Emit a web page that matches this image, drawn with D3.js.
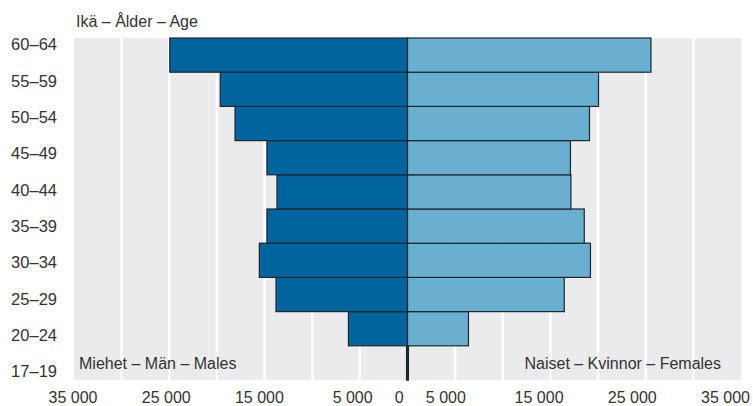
<!DOCTYPE html>
<html>
<head>
<meta charset="utf-8">
<script src="https://cdn.jsdelivr.net/npm/d3@7"></script>
<style>
  html, body { margin: 0; padding: 0; background: #fff; }
  svg { display: block; }
  text { font-family: "Liberation Sans", Arial, Helvetica, sans-serif; fill: #333; }
</style>
</head>
<body>
<svg id="chart" width="753" height="406"></svg>
<script>
// ---- Data ----
const ageGroups = ["17–19", "20–24", "25–29", "30–34", "35–39", "40–44", "45–49", "50–54", "55–59", "60–64"];
const males   = [100, 6200, 13800, 15550, 14750, 13700, 14750, 18100, 19650, 24950];
const females = [100, 6400, 16450, 19200, 18550, 17150, 17100, 19100, 20050, 25550];
const tickValues = [-35000, -25000, -15000, -5000, 0, 5000, 15000, 25000, 35000];
const gridValues = [-30000, -25000, -20000, -15000, -10000, -5000, 5000, 10000, 15000, 20000, 25000, 30000];
const axisTitle = "Ikä – Ålder – Age";
const maleLabel = "Miehet – Män – Males";
const femaleLabel = "Naiset – Kvinnor – Females";

// ---- Layout ----
const W = 753, H = 406;
const plot = { left: 74, right: 741, top: 38, bottom: 380 };
const svg = d3.select("#chart");

const x = d3.scaleLinear().domain([-35000, 35000]).range([plot.left, plot.right]);
const xLab = d3.scaleLinear().domain(x.domain()).range([plot.left - 1.5, plot.right - 16]);
const y = d3.scaleBand().domain(ageGroups).range([plot.bottom, plot.top]).padding(0);
const yLab = d3.scalePoint().domain(ageGroups).range([plot.bottom - 9, plot.top + 6]);

const loc = d3.formatLocale({ decimal: ",", thousands: " ", grouping: [3], currency: ["", ""] });
const fmt = v => loc.format(",")(Math.abs(v));

// background
svg.append("rect")
  .attr("x", plot.left).attr("y", plot.top)
  .attr("width", plot.right - plot.left).attr("height", plot.bottom - plot.top)
  .attr("fill", "#ebebed");

// gridlines
svg.append("g").selectAll("line").data(gridValues).join("line")
  .attr("x1", d => x(d)).attr("x2", d => x(d))
  .attr("y1", plot.top).attr("y2", plot.bottom)
  .attr("stroke", "#fff").attr("stroke-width", 2.5);

// bars
const rows = ageGroups.map((a, i) => ({ age: a, m: males[i], f: females[i] }));
const barStroke = "#20262b";
svg.append("g").selectAll("rect").data(rows).join("rect")
  .attr("x", d => x(-d.m)).attr("width", d => x(0) - x(-d.m))
  .attr("y", d => y(d.age)).attr("height", y.bandwidth())
  .attr("fill", "#00659e").attr("stroke", barStroke).attr("stroke-width", 1.2);
svg.append("g").selectAll("rect").data(rows).join("rect")
  .attr("x", x(0)).attr("width", d => x(d.f) - x(0))
  .attr("y", d => y(d.age)).attr("height", y.bandwidth())
  .attr("fill", "#68afd0").attr("stroke", barStroke).attr("stroke-width", 1.2);

// x tick labels
const xAxis = d3.axisBottom(xLab).tickValues(tickValues).tickFormat(fmt).tickSize(0).tickPadding(0);
const gx = svg.append("g").attr("transform", `translate(0,${plot.bottom})`).call(xAxis);
gx.select(".domain").remove();
gx.selectAll("text").attr("font-size", 16).attr("dy", null).attr("y", 23)
  .style("font-family", '"Liberation Sans", Arial, sans-serif').attr("fill", "#333");

// y labels
const yAxis = d3.axisLeft(yLab).tickSize(0).tickPadding(0);
const gy = svg.append("g").attr("transform", `translate(${plot.left - 17},0)`).call(yAxis);
gy.select(".domain").remove();
gy.selectAll("text").attr("font-size", 16.5).attr("dy", "0.35em")
  .style("font-family", '"Liberation Sans", Arial, sans-serif').attr("fill", "#333");

// titles
svg.append("text").attr("x", plot.left + 2).attr("y", 27)
  .attr("font-size", 16).text(axisTitle);
svg.append("text").attr("x", plot.left + 5).attr("y", plot.bottom - 11)
  .attr("font-size", 16).text(maleLabel);
svg.append("text").attr("x", plot.right - 20).attr("y", plot.bottom - 11)
  .attr("font-size", 16).attr("text-anchor", "end").text(femaleLabel);
</script>
</body>
</html>
